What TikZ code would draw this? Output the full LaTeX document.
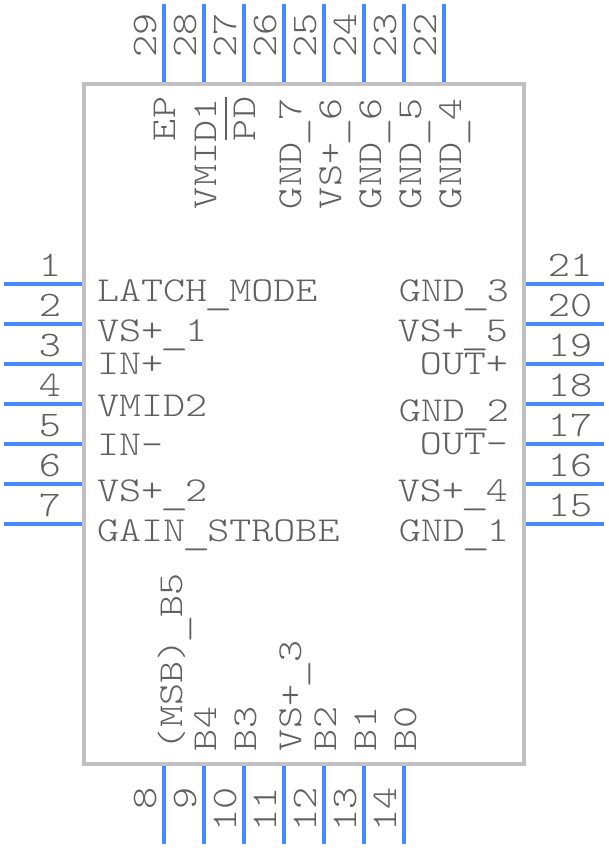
\documentclass[tikz,border=0pt]{standalone}
\usepackage{fontspec}
\usepackage{graphicx}
\definecolor{pinblue}{HTML}{4689F8}
\definecolor{bodygray}{HTML}{C0C0C0}
\definecolor{txtgray}{HTML}{606060}
\newcommand{\mono}[1]{\scalebox{1.2}[1]{\fontsize{35}{35}\ttfamily\fontseries{l}\selectfont #1}}
\newcommand{\numb}[1]{\scalebox{1.17}[1]{\fontsize{36}{36}\ttfamily\fontseries{l}\selectfont #1}}
\newcommand{\us}{\raisebox{-3pt}{\makebox[0.525em][c]{\scalebox{1.3}[1]{\_}}}}
\tikzset{
  pin/.style={draw=pinblue,line width=4pt},
  chip/.style={draw=bodygray,line width=4pt,fill=none},
  lab/.style={inner sep=0pt,outer sep=0pt,text=txtgray,font=\ttfamily},
  labl/.style={lab,anchor=base west},
  labr/.style={lab,anchor=base east},
  labc/.style={lab,anchor=base},
  labu/.style={lab,anchor=base west,rotate=90},
  labd/.style={lab,anchor=base east,rotate=90},
}
\begin{document}
\begin{tikzpicture}[x=1pt,y=-1pt]
\useasboundingbox (0,0) rectangle (608,848);
% pins
\foreach \i in {0,...,6}{
  \draw[pin] (4,284+40*\i) -- (82,284+40*\i);
  \draw[pin] (526,284+40*\i) -- (604,284+40*\i);
  \draw[pin] (164+40*\i,766) -- (164+40*\i,844);
}
\foreach \i in {0,...,7}{
  \draw[pin] (164+40*\i,4) -- (164+40*\i,82);
}
\draw[chip] (84,84) rectangle (524,764);
% numbers
\foreach \n/\y in {1/276,2/316,3/356,4/396,5/436,6/476,7/516}
  \node[labc] (nl\n) at (50,\y) {\numb{\n}};
\foreach \n/\y in {21/276,20/316,19/356,18/396,17/436,16/476,15/516}
  \node[labc] (nr\n) at (570,\y) {\numb{\n}};
\foreach \n/\x in {29/156,28/196,27/236,26/276,25/316,24/356,23/396,22/436}
  \node[labu] (nt\n) at (\x,58) {\numb{\n}};
\foreach \n/\x in {8/156,9/196,10/236,11/276,12/316,13/356,14/396}
  \node[labd] (nb\n) at (\x,787) {\numb{\n}};
% left labels
\node[labl] (l1) at (97,301) {\mono{LATCH\us MODE}};
\node[labl] (l2) at (97,341) {\mono{VS+\us 1}};
\node[labl] (l3) at (97,374) {\mono{IN+}};
\node[labl] (l4) at (97,416) {\mono{VMID2}};
\node[labl] (l5) at (97,455) {\mono{IN-}};
\node[labl] (l6) at (97,501) {\mono{VS+\us 2}};
\node[labl] (l7) at (97,541) {\mono{GAIN\us STROBE}};
% right labels
\node[labr] (r1) at (509,301) {\mono{GND\us 3}};
\node[labr] (r2) at (508,341) {\mono{VS+\us 5}};
\node[labr] (r3) at (508,374) {\mono{OUT+}};
\node[labr] (r4) at (509,421) {\mono{GND\us 2}};
\node[labr] (r5) at (508,454) {\mono{OUT-}};
\node[labr] (r6) at (508,501) {\mono{VS+\us 4}};
\node[labr] (r7) at (509,541) {\mono{GND\us 1}};
% top labels
\node[labu] (t1) at (175,141) {\mono{EP}};
\node[labu] (t2) at (216,209) {\mono{VMID1}};
\node[labu] (t3) at (255,141) {\mono{PD}};
\draw[txtgray,line width=1.8pt] (226,97) -- (226,140);
\node[labu] (t4) at (301,209) {\mono{GND\us 7}};
\node[labu] (t5) at (341,209) {\mono{VS+\us 6}};
\node[labu] (t6) at (381,209) {\mono{GND\us 6}};
\node[labu] (t7) at (421,209) {\mono{GND\us 5}};
\node[labu] (t8) at (461,209) {\mono{GND\us 4}};
% bottom labels
\node[labu] (b1) at (182,750) {\mono{(MSB)\us B5}};
\node[labu] (b2) at (216,751) {\mono{B4}};
\node[labu] (b3) at (256,751) {\mono{B3}};
\node[labu] (b4) at (301,751) {\mono{VS+\us 3}};
\node[labu] (b5) at (336,751) {\mono{B2}};
\node[labu] (b6) at (376,751) {\mono{B1}};
\node[labu] (b7) at (416,751) {\mono{B0}};
\end{tikzpicture}
\end{document}
